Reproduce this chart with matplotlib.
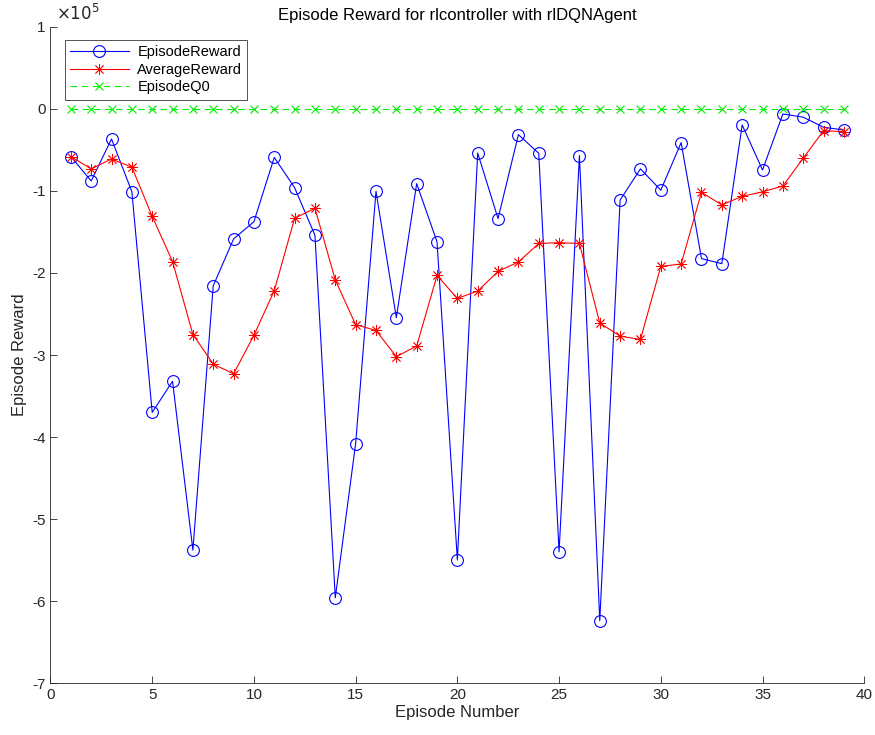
import matplotlib
matplotlib.use("Agg")
import matplotlib.pyplot as plt
from matplotlib.ticker import FixedLocator

plt.rcParams['font.family'] = ['Liberation Sans', 'DejaVu Sans']
plt.rcParams['axes.unicode_minus'] = False

episodes = list(range(1, 40))

# Episode rewards (x1e5)
episode_reward = [
    -0.58, -0.878, -0.366, -1.008, -3.70, -3.32, -5.38, -2.155, -1.585, -1.374,
    -0.59, -0.96, -1.54, -5.96, -4.08, -1.004, -2.545, -0.91, -1.62, -5.50,
    -0.537, -1.337, -0.313, -0.54, -5.40, -0.569, -6.24, -1.11, -0.73, -0.99,
    -0.41, -1.825, -1.886, -0.195, -0.744, -0.061, -0.10, -0.223, -0.256,
]

# Running average reward (x1e5)
average_reward = [
    -0.58, -0.73, -0.61, -0.71, -1.31, -1.86, -2.75, -3.11, -3.23, -2.76,
    -2.215, -1.333, -1.21, -2.085, -2.63, -2.70, -3.02, -2.89, -2.03, -2.31,
    -2.22, -1.98, -1.866, -1.64, -1.63, -1.64, -2.61, -2.77, -2.81, -1.92,
    -1.89, -1.016, -1.17, -1.065, -1.01, -0.94, -0.60, -0.264, -0.277,
]

# Initial Q estimate per episode (x1e5)
episode_q0 = [
    0.0, 0.0, 0.0, 0.0, 0.0, 0.0, 0.0, 0.0, 0.0, 0.0,
    0.0, 0.0, 0.0, 0.0, 0.0, 0.0, 0.0, 0.0, 0.0, 0.0,
    0.0, 0.0, 0.0, 0.0, 0.0, 0.0, 0.0, 0.0, 0.0, 0.0,
    0.0, 0.0, 0.0, 0.0, 0.0, 0.0, 0.0, 0.0, 0.0,
]

scale = 1e5
x_ticks = [0, 5, 10, 15, 20, 25, 30, 35, 40]
y_ticks = [-7, -6, -5, -4, -3, -2, -1, 0, 1]

fig = plt.figure(figsize=(8.75, 7.35), dpi=100)
ax = fig.add_axes([0.0577, 0.0707, 0.930, 0.8926])

asterisk = (8, 2, 0)

ax.plot(episodes, [v * scale for v in episode_reward], '-', marker='o',
        color='#0000ff', lw=0.8, ms=8.5, mfc='none', mew=0.8,
        label='EpisodeReward')
ax.plot(episodes, [v * scale for v in average_reward], '-', marker=asterisk,
        color='#ff0000', lw=0.8, ms=8, mew=0.6, label='AverageReward')
ax.plot(episodes, [v * scale for v in episode_q0], '--x', color='#00ee00',
        lw=0.8, ms=6, mew=0.8, dashes=(6, 4), label='EpisodeQ0')

ax.set_xlim(0, 40)
ax.set_ylim(-7 * scale, 1 * scale)
ax.xaxis.set_major_locator(FixedLocator(x_ticks))
ax.yaxis.set_major_locator(FixedLocator([t * scale for t in y_ticks]))
ax.set_yticklabels([str(t) for t in y_ticks])

for side in ('top', 'right'):
    ax.spines[side].set_visible(False)
for side in ('left', 'bottom'):
    ax.spines[side].set_color('#262626')
    ax.spines[side].set_linewidth(0.6)
ax.tick_params(direction='in', length=5, width=0.6, colors='#262626',
               labelsize=11)

ax.text(0.007, 1.006, r'$\times10^5$', transform=ax.transAxes,
        ha='left', va='bottom', fontsize=12, color='#262626')

ax.set_title('Episode Reward for rlcontroller with rlDQNAgent',
             fontsize=12, color='#000000', pad=5)
ax.set_xlabel('Episode Number', fontsize=12, color='#262626', labelpad=2)
ax.set_ylabel('Episode Reward', fontsize=12, color='#262626', labelpad=4)

leg = ax.legend(loc='upper left', bbox_to_anchor=(0.018, 0.98),
                fontsize=10.5, frameon=True, fancybox=False,
                handlelength=4.0, borderpad=0.35, labelspacing=0.25,
                handletextpad=0.6, borderaxespad=0.0)
leg.get_frame().set_edgecolor('#262626')
leg.get_frame().set_linewidth(0.7)

fig.savefig('out.png', dpi=100)
